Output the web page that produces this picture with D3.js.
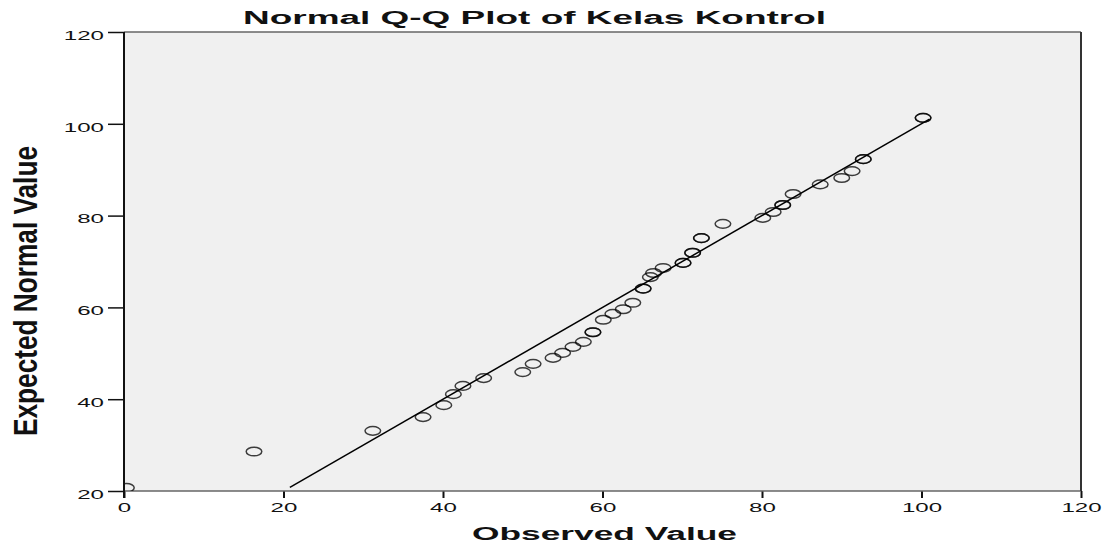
<!DOCTYPE html>
<html>
<head>
<meta charset="utf-8">
<script src="https://cdn.jsdelivr.net/npm/d3@7"></script>
<style>
  body { margin: 0; background: #fff; }
  text { font-family: "Liberation Sans", Arial, sans-serif; fill: #111; }
</style>
</head>
<body>
<script>
// observed value vs expected normal value (repeated pairs are tied scores)
var observed = [0.3, 16.3, 31.2, 37.5, 40.1, 41.3, 42.5, 45.1, 50.0, 51.3, 53.8, 55.0,
  56.3, 57.6, 58.8, 58.8, 60.1, 61.3, 62.6, 63.8, 65.1, 65.1, 66.0, 66.4, 67.6,
  70.1, 70.1, 71.3, 71.3, 72.4, 72.4, 75.1, 80.1, 81.4, 82.6, 82.6, 83.9, 87.3,
  90.0, 91.3, 92.7, 92.7, 100.2, 100.2];
var expected = [20.7, 28.6, 33.1, 36.1, 38.7, 41.1, 42.9, 44.6, 45.9, 47.7, 49.0, 50.1,
  51.4, 52.5, 54.6, 54.6, 57.3, 58.6, 59.6, 61.0, 64.1, 64.1, 66.6, 67.5, 68.6,
  69.7, 69.7, 71.9, 71.9, 75.1, 75.1, 78.2, 79.5, 80.8, 82.3, 82.3, 84.7, 86.8,
  88.2, 89.7, 92.3, 92.3, 101.3, 101.3];
var lineEnds = [20.8, 101];
var xTicks = [0, 20, 40, 60, 80, 100, 120];
var yTicks = [20, 40, 60, 80, 100, 120];

var svgWidth = 1109;
var svgHeight = 545;
var margin = { top: 32, right: 28, bottom: 54, left: 124 };
var width = svgWidth - margin.left - margin.right;
var height = svgHeight - margin.top - margin.bottom;

var svg = d3.select("body").append("svg")
  .attr("width", svgWidth)
  .attr("height", svgHeight);

var g = svg.append("g")
  .attr("transform", `translate(${margin.left}, ${margin.top})`);

var x = d3.scaleLinear().domain([0, 120]).range([0, width]);
var y = d3.scaleLinear().domain([20, 120]).range([height, 0]);

g.append("rect")
  .attr("width", width)
  .attr("height", height)
  .attr("fill", "#f0f0f0");

g.append("clipPath").attr("id", "plotClip")
  .append("rect").attr("width", width).attr("height", height);

// axes
var yAxis = g.append("g")
  .call(d3.axisLeft(y).tickValues(yTicks).tickSize(16).tickPadding(4));
var xAxis = g.append("g")
  .attr("transform", `translate(0, ${height})`)
  .call(d3.axisBottom(x).tickValues(xTicks).tickSize(7).tickPadding(5));

[yAxis, xAxis].forEach(function(ax) {
  ax.select(".domain").remove();
  ax.selectAll("text")
    .style("font-size", "12px")
    .style("font-family", "\"Liberation Sans\", Arial, sans-serif")
    .attr("fill", "#111")
    .attr("lengthAdjust", "spacingAndGlyphs")
    .attr("textLength", function(d) { return String(d).length * 13.4; });
});
yAxis.selectAll("line").attr("stroke", "#111").attr("stroke-width", 1.5);
yAxis.selectAll("text").attr("dy", "0.6em");
xAxis.selectAll("line").attr("stroke", "#111").attr("stroke-width", 2);

// frame
g.append("line").attr("x1", 0).attr("x2", width).attr("y1", 0).attr("y2", 0)
  .attr("stroke", "#666").attr("stroke-width", 1.5);
g.append("line").attr("x1", 0).attr("x2", width).attr("y1", height).attr("y2", height)
  .attr("stroke", "#666").attr("stroke-width", 1.5);
g.append("line").attr("x1", width).attr("x2", width).attr("y1", 0).attr("y2", height)
  .attr("stroke", "#333").attr("stroke-width", 2);

var plot = g.append("g").attr("clip-path", "url(#plotClip)");

// reference line y = x
plot.append("line")
  .attr("x1", x(lineEnds[0])).attr("y1", y(lineEnds[0]))
  .attr("x2", x(lineEnds[1])).attr("y2", y(lineEnds[1]))
  .attr("stroke", "#000")
  .attr("stroke-width", 1.5);

plot.selectAll("ellipse")
  .data(observed)
  .enter()
  .append("ellipse")
  .attr("cx", function(d) { return x(d); })
  .attr("cy", function(d, i) { return y(expected[i]); })
  .attr("rx", 7.8)
  .attr("ry", 4.3)
  .attr("fill", "none")
  .attr("stroke", "#000")
  .attr("stroke-opacity", 0.75)
  .attr("stroke-width", 1.5);

g.append("line").attr("x1", 0).attr("x2", 0).attr("y1", 0).attr("y2", height + 7)
  .attr("stroke", "#111").attr("stroke-width", 2);

// titles
svg.append("text")
  .attr("x", 243)
  .attr("y", 24)
  .attr("textLength", 583)
  .attr("lengthAdjust", "spacingAndGlyphs")
  .style("font-size", "17.5px")
  .style("font-weight", "bold")
  .text("Normal Q-Q Plot of Kelas Kontrol");

svg.append("text")
  .attr("x", 472)
  .attr("y", 540)
  .attr("textLength", 265)
  .attr("lengthAdjust", "spacingAndGlyphs")
  .style("font-size", "18px")
  .style("font-weight", "bold")
  .text("Observed Value");

svg.append("text")
  .attr("transform", "translate(37, 436) rotate(-90)")
  .attr("textLength", 290)
  .attr("lengthAdjust", "spacingAndGlyphs")
  .style("font-family", "\"Liberation Sans Narrow\", \"Arial Narrow\", \"Liberation Sans\", sans-serif")
  .style("font-size", "33px")
  .style("font-weight", "bold")
  .text("Expected Normal Value");
</script>
</body>
</html>
